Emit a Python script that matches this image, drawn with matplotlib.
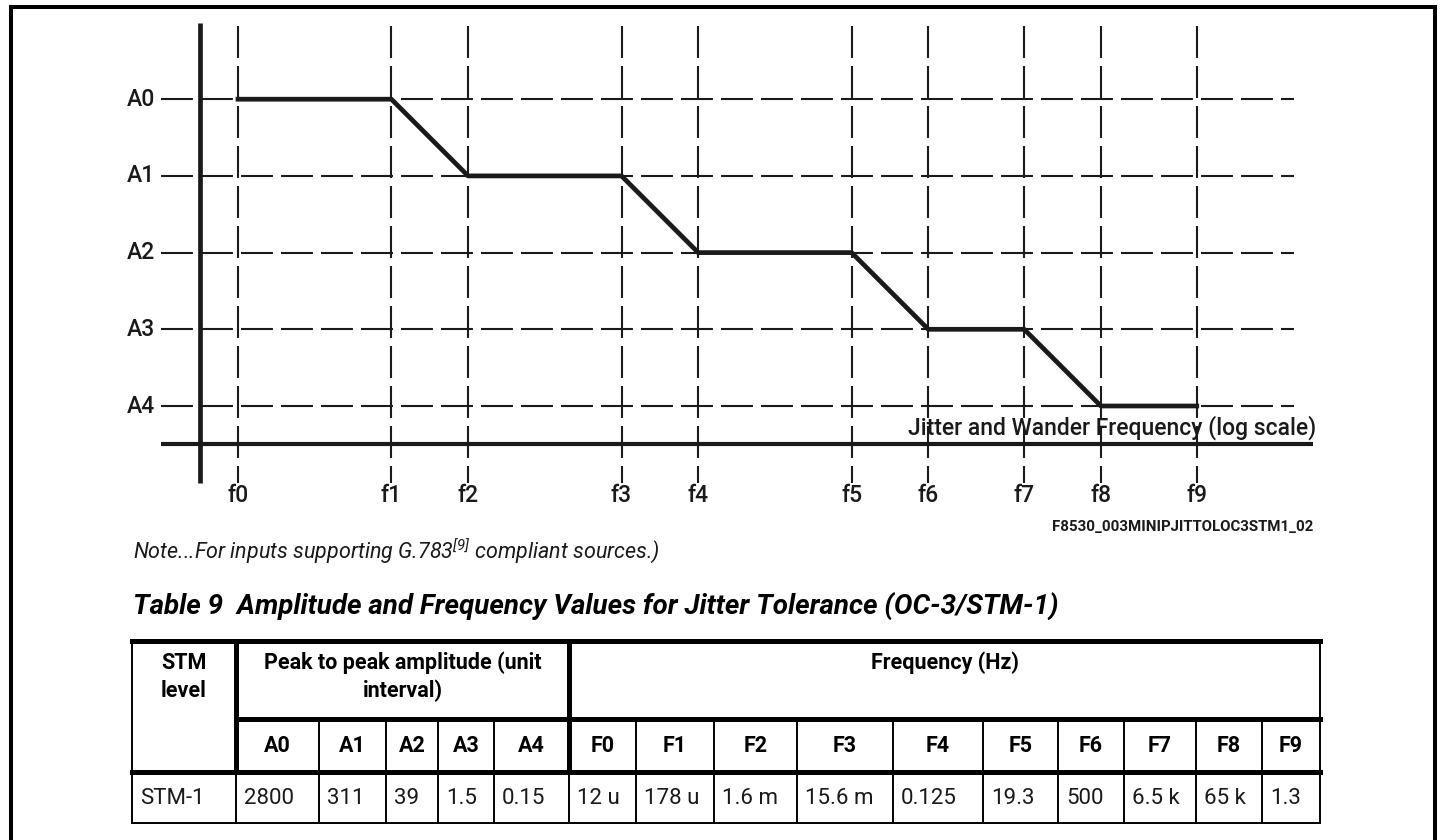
import matplotlib
matplotlib.use("Agg")
import matplotlib.pyplot as plt

plt.rcParams['font.family'] = ['Roboto', 'DejaVu Sans']
plt.rcParams['lines.scale_dashes'] = False
plt.rcParams['mathtext.fontset'] = 'custom'
plt.rcParams['mathtext.rm'] = 'Roboto:italic'
plt.rcParams['mathtext.it'] = 'Roboto:italic'

# schematic breakpoints of the jitter tolerance mask (not to scale)
freq_labels = ['f0', 'f1', 'f2', 'f3', 'f4', 'f5', 'f6', 'f7', 'f8', 'f9']
freq_pos = [0, 2, 3, 5, 6, 8, 9, 10.25, 11.25, 12.5]
amp_labels = ['A0', 'A1', 'A2', 'A3', 'A4']
amp_pos = [4, 3, 2, 1, 0]

# corners of the mask, frequency -> amplitude level
mask_freq = ['f0', 'f1', 'f2', 'f3', 'f4', 'f5', 'f6', 'f7', 'f8', 'f9']
mask_amp = ['A0', 'A0', 'A1', 'A1', 'A2', 'A2', 'A3', 'A3', 'A4', 'A4']

# table 9 values
stm_level = 'STM-1'
amp_cols = ['A0', 'A1', 'A2', 'A3', 'A4']
amp_vals = ['2800', '311', '39', '1.5', '0.15']
freq_cols = ['F0', 'F1', 'F2', 'F3', 'F4', 'F5', 'F6', 'F7', 'F8', 'F9']
freq_vals = ['12 u', '178 u', '1.6 m', '15.6 m', '0.125', '19.3', '500', '6.5 k', '65 k', '1.3']

ink = '#1a1a1a'
W, H = 1441, 840
fig = plt.figure(figsize=(W / 100, H / 100), dpi=100)

# ---- chart, in schematic units (1 unit = one f1-f2 step) ----
u = 76.7
ox, oy = 238, 406
ax = fig.add_axes([0, 0, 1, 1])
ax.set_xlim(-ox / u, (W - ox) / u)
ax.set_ylim((oy - H) / u, oy / u)
ax.axis('off')

fx = dict(zip(freq_labels, freq_pos))
ay = dict(zip(amp_labels, amp_pos))
lbl = dict(fontsize=16.5, color=ink, fontweight='medium')

for lab, a in zip(amp_labels, amp_pos):
    ax.plot([-1.0, 13.77], [a, a], color=ink, lw=1.5, dashes=(23, 5.8))
    ax.text(-1.08, a, lab, ha='right', va='center', **lbl)

for lab, f in zip(freq_labels, freq_pos):
    ax.plot([f, f], [4.96, -1.0], color=ink, lw=1.5, dashes=(23, 5.8))
    ax.text(f, -1.17, lab, ha='center', va='center', **lbl)

ax.plot([-0.5, -0.5], [4.99, -1.0], color=ink, lw=3.4, solid_capstyle='butt')
ax.plot([-1.0, 14.02], [-0.5, -0.5], color=ink, lw=3.0, solid_capstyle='butt')

ax.plot([fx[f] for f in mask_freq], [ay[a] for a in mask_amp],
        color=ink, lw=3.4, zorder=3)

ax.text(14.06, -0.28, 'Jitter and Wander Frequency (log scale)',
        ha='right', va='center', **lbl)

# ---- page elements and table, in pixels ----
axp = fig.add_axes([0, 0, 1, 1])
axp.set_xlim(0, W)
axp.set_ylim(H, 0)
axp.axis('off')

# frame
axp.plot([11, 11], [H, 7], color='black', lw=2.9, solid_capstyle='projecting')
axp.plot([11, 1435], [7, 7], color='black', lw=2.9, solid_capstyle='projecting')
axp.plot([1435, 1435], [7, H], color='black', lw=2.9, solid_capstyle='projecting')

axp.text(1313, 527, 'F8530_003MINIPJITTOLOC3STM1_02', ha='right', va='center',
         fontsize=10.8, fontweight='bold', color=ink)
axp.text(133, 550, 'Note...For inputs supporting G.783$^{[9]}$ compliant sources.)',
         ha='left', va='center', fontsize=15.5, style='italic', color=ink)
axp.text(133, 607, 'Table 9  Amplitude and Frequency Values for Jitter Tolerance (OC-3/STM-1)',
         ha='left', va='center', fontsize=20, style='italic', fontweight='bold', color='black')

col_edges = [132, 236, 319, 386, 438, 494, 569, 636, 714, 797, 893, 983,
             1058, 1124, 1196, 1262, 1320]
row_edges = [641, 719, 772, 823]
thick, thin = 3.6, 1.4


def hline(y, x0, x1, lw):
    axp.plot([x0, x1], [y, y], color='black', lw=lw, solid_capstyle='projecting')


def vline(x, y0, y1, lw):
    axp.plot([x, x], [y0, y1], color='black', lw=lw, solid_capstyle='projecting')


left, right = col_edges[0], col_edges[-1]
hline(row_edges[0], left, right, thick)
hline(row_edges[1], col_edges[1], right, thick)
hline(row_edges[2], left, right, thick)
hline(row_edges[3], left, right, thin)
vline(left, row_edges[0], row_edges[3], thin)
vline(right, row_edges[0], row_edges[3], thin)
for i in (1, 6):
    vline(col_edges[i], row_edges[0], row_edges[2], thick)
    vline(col_edges[i], row_edges[2], row_edges[3], thin)
for i in range(2, len(col_edges) - 1):
    if i != 6:
        vline(col_edges[i], row_edges[1], row_edges[3], thin)

hdr = dict(fontsize=15.5, fontweight='bold', color='black', linespacing=1.3)
axp.text((col_edges[0] + col_edges[1]) / 2, 677, 'STM\nlevel', ha='center', va='center', **hdr)
axp.text((col_edges[1] + col_edges[6]) / 2, 677, 'Peak to peak amplitude (unit\ninterval)',
         ha='center', va='center', **hdr)
axp.text((col_edges[6] + col_edges[-1]) / 2, 663, 'Frequency (Hz)', ha='center', va='center', **hdr)

heads = amp_cols + freq_cols
vals = amp_vals + freq_vals
for i, (h, v) in enumerate(zip(heads, vals), start=1):
    axp.text((col_edges[i] + col_edges[i + 1]) / 2, 746, h, ha='center', va='center', **hdr)
    axp.text(col_edges[i] + 8, 798, v, ha='left', va='center', fontsize=16, color=ink)
axp.text(col_edges[0] + 8, 798, stm_level, ha='left', va='center', fontsize=16, color=ink)

fig.savefig('out.png', dpi=100)
